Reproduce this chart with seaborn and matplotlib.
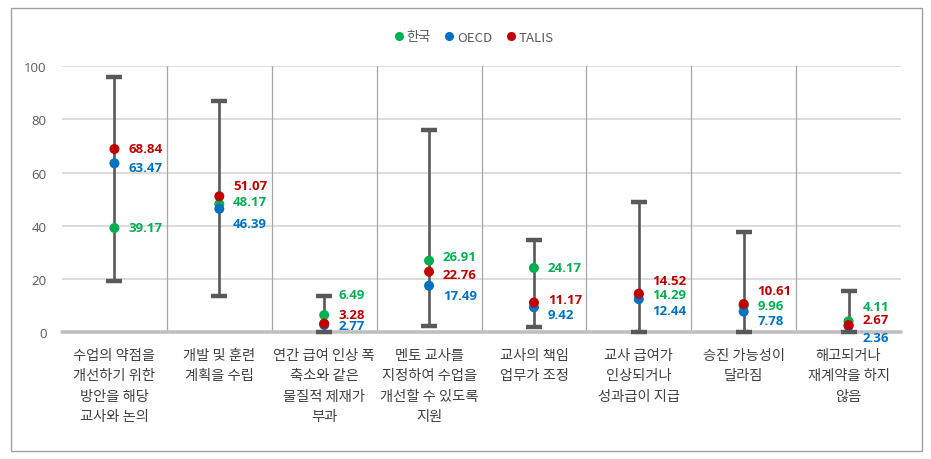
import matplotlib
matplotlib.use("Agg")
import matplotlib.pyplot as plt
import seaborn as sns
import pandas as pd
import numpy as np
from matplotlib.patches import Rectangle

categories = [
    "수업의 약점을\n개선하기 위한\n방안을 해당\n교사와 논의",
    "개발 및 훈련\n계획을 수립",
    "연간 급여 인상 폭\n축소와 같은\n물질적 제재가\n부과",
    "멘토 교사를\n지정하여 수업을\n개선할 수 있도록\n지원",
    "교사의 책임\n업무가 조정",
    "교사 급여가\n인상되거나\n성과급이 지급",
    "승진 가능성이\n달라짐",
    "해고되거나\n재계약을 하지\n않음",
]
range_min = [19.4, 13.8, 0.0, 2.5, 2.1, 0.0, 0.0, 0.0]
range_max = [95.7, 87.0, 13.8, 75.8, 34.8, 49.1, 37.5, 15.4]
korea = [39.17, 48.17, 6.49, 26.91, 24.17, 14.29, 9.96, 4.11]
oecd = [63.47, 46.39, 2.77, 17.49, 9.42, 12.44, 7.78, 2.36]
talis = [68.84, 51.07, 3.28, 22.76, 11.17, 14.52, 10.61, 2.67]
series_names = ["한국", "OECD", "TALIS"]
colors = {"한국": "#00B050", "OECD": "#0070C0", "TALIS": "#C00000"}

# label vertical nudges in pixels (positive = up)
nudge = {
    "한국": [0, 2, 20, 4, 0, 0, 0, 14],
    "OECD": [-4, -14, -1, -9, -7, -11, -9, -11],
    "TALIS": [0, 10, 9, -3, 3, 13, 13, 5],
}

sns.set_theme(style="white")
plt.rcParams["font.family"] = ["Noto Sans CJK KR", "DejaVu Sans"]

fig = plt.figure(figsize=(9.31, 4.60), dpi=100)
ax = fig.add_axes([62 / 931, 126.7 / 460, 839 / 931, 266.3 / 460])

x = np.arange(len(categories))
# range bars
ax.vlines(x, range_min, range_max, color="#595959", lw=1.9, zorder=2)
ax.scatter(x, range_max, marker="_", s=140, linewidths=3.2, color="#595959", zorder=3.5,
           clip_on=False)
ax.scatter(x, range_min, marker="_", s=140, linewidths=3.2, color="#595959", zorder=3.5,
           clip_on=False)

df = pd.DataFrame({"cat": np.tile(x, 3),
                   "value": korea + oecd + talis,
                   "series": np.repeat(series_names, len(categories))})
sns.scatterplot(data=df, x="cat", y="value", hue="series", palette=colors,
                s=52, edgecolor="none", legend=False, ax=ax, zorder=4)

vals = {"한국": korea, "OECD": oecd, "TALIS": talis}
for name in series_names:
    for i, v in enumerate(vals[name]):
        ax.annotate(f"{v:.2f}", (i, v), xytext=(10.0, nudge[name][i] * 0.75),
                    textcoords="offset points", ha="left", va="center",
                    fontsize=9.5, fontweight="bold", color=colors[name],
                    family=["Open Sans", "DejaVu Sans"], zorder=5)

ax.set_xlim(-0.5, len(categories) - 0.5)
ax.set_ylim(0, 100)
ax.set_yticks([0, 20, 40, 60, 80, 100])
ax.yaxis.grid(True, color="#D9D9D9", lw=1.3, zorder=0)
for b in np.arange(0.5, len(categories) - 0.5, 1):
    ax.axvline(b, color="#A6A6A6", lw=0.9, zorder=1)
ax.axhline(0, color="#BFBFBF", lw=2.6, zorder=3, clip_on=False)
for s in ax.spines.values():
    s.set_visible(False)
ax.set_xticks(x)
ax.set_xticklabels(categories, fontsize=10.3, color="#404040", linespacing=1.6,
                   va="top")
ax.tick_params(axis="x", length=0, pad=11)
ax.tick_params(axis="y", length=0, pad=11, labelsize=9.5, labelcolor="#595959")
for t in ax.get_yticklabels():
    t.set_family(["Open Sans", "DejaVu Sans"])
ax.set_xlabel("")
ax.set_ylabel("")

# legend
handles = [plt.Line2D([], [], marker="o", ls="", color=colors[n], markersize=5.5)
           for n in series_names]
leg = fig.legend(handles, series_names, loc="center", bbox_to_anchor=(473 / 931, 1 - 38 / 460),
                 ncol=3, frameon=False, fontsize=9.5, handletextpad=0.1, columnspacing=0.9,
                 handlelength=1.0)
for t in leg.get_texts():
    t.set_color("#595959")

fig.patches.append(Rectangle((11 / 931, 8 / 460), 911 / 931, 443 / 460,
                             transform=fig.transFigure, fill=False,
                             edgecolor="#A0A0A0", lw=1.0))

fig.savefig("out.png", dpi=100)
